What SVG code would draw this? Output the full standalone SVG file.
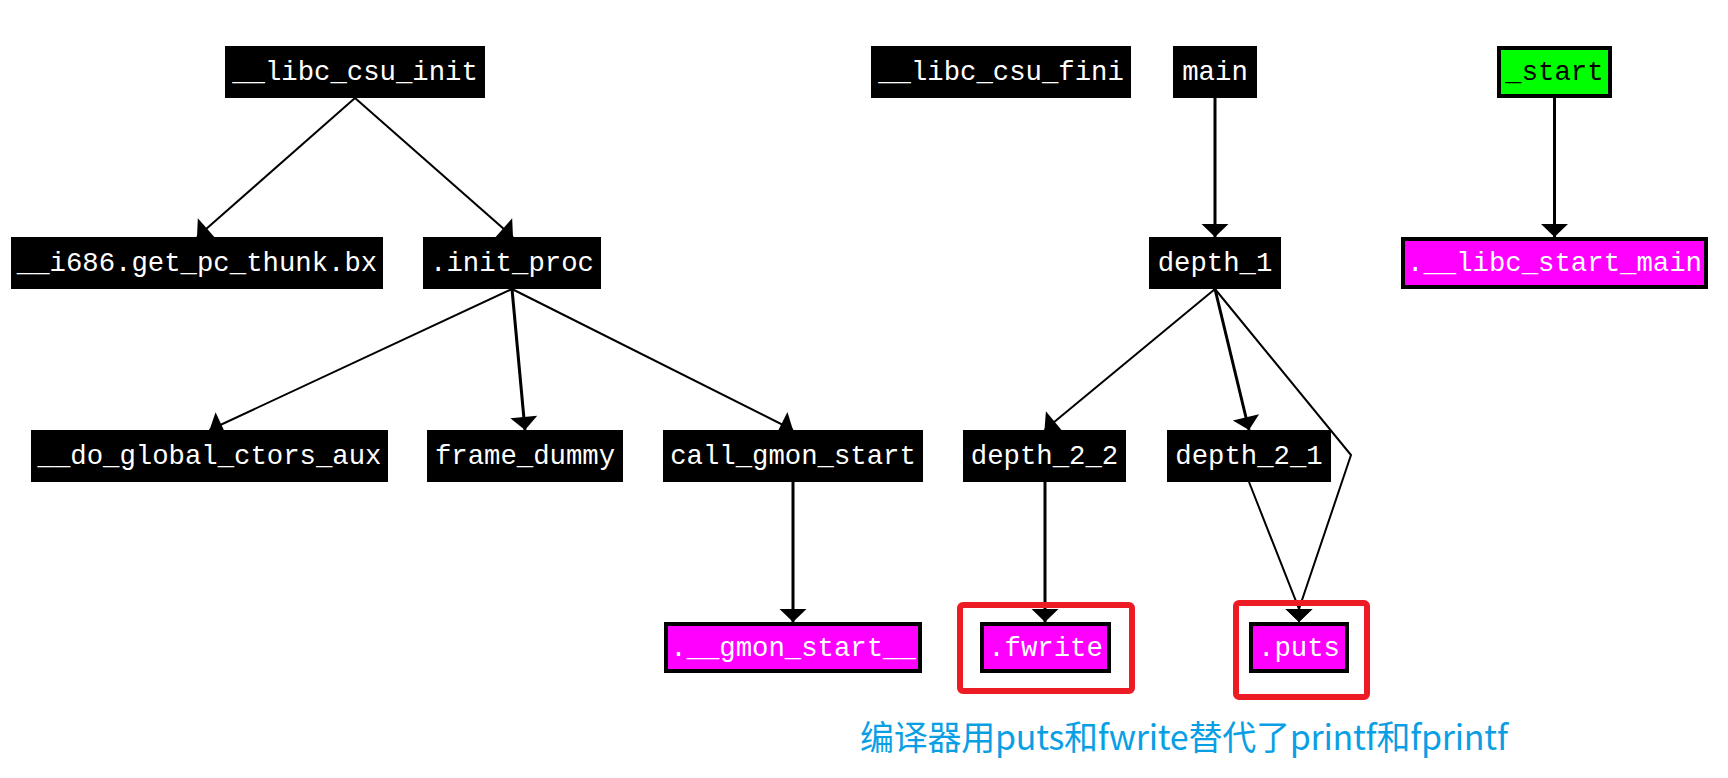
<svg xmlns="http://www.w3.org/2000/svg" width="1728" height="778" viewBox="0 0 1728 778">
<style>
.nb{fill:#000}
.nm{fill:#ff00ff;stroke:#000;stroke-width:4}
.ng{fill:#00ff00;stroke:#000;stroke-width:4}
.t{font-family:"Liberation Mono","DejaVu Sans Mono",monospace;font-size:27.3px;fill:#fff;text-anchor:middle}
.tk{fill:#000}
.e{fill:none;stroke:#000;stroke-width:2;marker-end:url(#ah)}
.v{stroke-width:3}
.red{fill:none;stroke:#ed1c24;stroke-width:6}
.note{font-family:"Noto Sans CJK SC","Noto Sans",sans-serif;font-size:34px;fill:#0a9fe5}
</style>
<defs>
<marker id="ah" markerUnits="userSpaceOnUse" markerWidth="30" markerHeight="30" viewBox="-14 -15 16 30" refX="0" refY="0" orient="auto">
<path d="M0,0 L-13,-13.5 L-13,13.5 Z" fill="#000"/>
</marker>
</defs>
<rect width="1728" height="778" fill="#fff"/>
<g id="connectors">
<path class="e" d="M355,98 L197,237"/>
<path class="e" d="M355,98 L513,237"/>
<path class="e" d="M512,289 L209.5,430"/>
<path class="e v" d="M512,289 L525,430"/>
<path class="e" d="M512,289 L793,430"/>
<path class="e v" d="M793,482 L793,622"/>
<path class="e v" d="M1215,98 L1215,237"/>
<path class="e v" d="M1554.5,98 L1554.5,237"/>
<path class="e" d="M1215,289 L1044.5,430"/>
<path class="e v" d="M1215,289 L1249,430"/>
<path class="e" d="M1215,289 L1351,455 L1299,609 L1299,622"/>
<path class="e" d="M1249,482 L1299,609 L1299,622"/>
<path class="e v" d="M1045,482 L1045,622"/>
</g>
<g id="n_libc_csu_init"><rect class="nb" x="225" y="46" width="260" height="52"/><text class="t" x="355" y="79.5">__libc_csu_init</text></g>
<g id="n_libc_csu_fini"><rect class="nb" x="871" y="46" width="260" height="52"/><text class="t" x="1001" y="79.5">__libc_csu_fini</text></g>
<g id="n_main"><rect class="nb" x="1173" y="46" width="84" height="52"/><text class="t" x="1215" y="79.5">main</text></g>
<g id="n_start"><rect class="ng" x="1499" y="48" width="111" height="48"/><text class="t tk" x="1554.5" y="79.5">_start</text></g>
<g id="n_i686"><rect class="nb" x="11" y="237" width="372" height="52"/><text class="t" x="197" y="270.5">__i686.get_pc_thunk.bx</text></g>
<g id="n_init_proc"><rect class="nb" x="423" y="237" width="178" height="52"/><text class="t" x="512" y="270.5">.init_proc</text></g>
<g id="n_depth_1"><rect class="nb" x="1149" y="237" width="132" height="52"/><text class="t" x="1215" y="270.5">depth_1</text></g>
<g id="n_libc_start_main"><rect class="nm" x="1403" y="239" width="303" height="48"/><text class="t" x="1554.5" y="270.5">.__libc_start_main</text></g>
<g id="n_do_global_ctors_aux"><rect class="nb" x="31" y="430" width="357" height="52"/><text class="t" x="209.5" y="463.5">__do_global_ctors_aux</text></g>
<g id="n_frame_dummy"><rect class="nb" x="427" y="430" width="196" height="52"/><text class="t" x="525" y="463.5">frame_dummy</text></g>
<g id="n_call_gmon_start"><rect class="nb" x="663" y="430" width="260" height="52"/><text class="t" x="793" y="463.5">call_gmon_start</text></g>
<g id="n_depth_2_2"><rect class="nb" x="963" y="430" width="163" height="52"/><text class="t" x="1044.5" y="463.5">depth_2_2</text></g>
<g id="n_depth_2_1"><rect class="nb" x="1167" y="430" width="164" height="52"/><text class="t" x="1249" y="463.5">depth_2_1</text></g>
<g id="n_gmon_start"><rect class="nm" x="666" y="624" width="254" height="47"/><text class="t" x="793" y="655.5">.__gmon_start__</text></g>
<g id="n_fwrite"><rect class="nm" x="982" y="624" width="127" height="47"/><text class="t" x="1045.5" y="655.5">.fwrite</text></g>
<g id="n_puts"><rect class="nm" x="1251" y="624" width="96" height="47"/><text class="t" x="1299" y="655.5">.puts</text></g>
<g id="annotation">
<rect class="red" x="960" y="605" width="172" height="86" rx="3"/>
<rect class="red" x="1236" y="603" width="131" height="94" rx="3"/>
<text class="note" x="860" y="750" textLength="648">编译器用puts和fwrite替代了printf和fprintf</text>
</g>
</svg>
